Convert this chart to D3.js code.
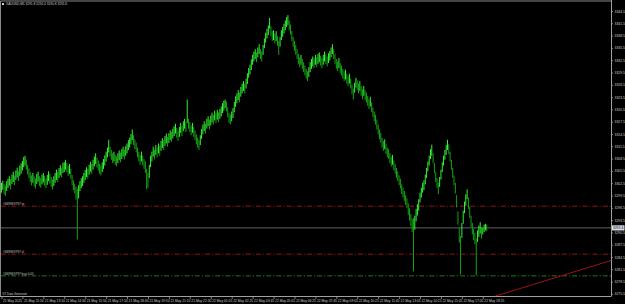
<!DOCTYPE html>
<html>
<head>
<meta charset="utf-8">
<script src="https://cdnjs.cloudflare.com/ajax/libs/d3/7.8.5/d3.min.js"></script>
<style>
  html, body { margin: 0; padding: 0; background: #000; }
  svg { display: block; }
  text { font-family: "Liberation Sans", Arial, sans-serif; }
</style>
</head>
<body>
<svg id="chart" width="625" height="304"></svg>
<script>
// XAUUSD M5, 21-22 May 2025 (MT4 style, green on black)

const titleText = "XAUUSD,M5  3291.8 3292.4 3290.8 3291.6";
const footerText = "DT Data Generator";

// one label every 16 bars
const timeLabels = [
  "21 May 2025", "21 May 11:50", "21 May 13:10", "21 May 14:30", "21 May 15:50", "21 May 17:10",
  "21 May 18:30", "21 May 19:50", "21 May 21:10", "21 May 22:30", "22 May 01:05", "22 May 02:25",
  "22 May 03:45", "22 May 05:05", "22 May 06:25", "22 May 07:45", "22 May 09:05", "22 May 10:25",
  "22 May 11:45", "22 May 13:05", "22 May 14:25", "22 May 15:45", "22 May 17:05", "22 May 18:25"
];

const priceLabels = [
  3344.5, 3341.5, 3338.5, 3335.5, 3332.5, 3329.5, 3326.5, 3323.5, 3320.5, 3317.5, 3314.5, 3311.5,
  3308.5, 3305.5, 3302.5, 3299.5, 3296.5, 3293.5, 3290.5, 3287.5, 3284.5, 3281.5, 3278.5, 3275.5
];

const highs = [
  3302.6, 3303.1, 3302.3, 3301.9, 3303.0, 3303.6, 3304.2, 3303.5, 3304.6, 3305.3, 3304.4, 3305.6, 3306.3, 3305.4, 3306.8, 3307.4,
  3307.9, 3308.9, 3309.2, 3308.3, 3307.0, 3306.1, 3305.2, 3304.4, 3305.0, 3304.1, 3303.6, 3304.8, 3305.3, 3304.2, 3303.8, 3304.6,
  3305.0, 3304.3, 3303.6, 3304.5, 3305.4, 3304.8, 3304.0, 3303.4, 3304.2, 3305.0, 3305.8, 3305.2, 3306.2, 3306.9, 3306.3, 3307.5,
  3307.6, 3308.2, 3307.5, 3306.7, 3307.2, 3306.0, 3304.5, 3303.2, 3302.4, 3301.7, 3301.2, 3302.0, 3303.0, 3303.7, 3304.2, 3305.0,
  3305.7, 3306.4, 3306.0, 3307.0, 3307.7, 3307.2, 3308.2, 3309.0, 3309.8, 3308.7, 3308.0, 3307.2, 3306.8, 3307.6, 3308.4, 3309.3,
  3310.2, 3311.2, 3313.1, 3311.4, 3310.6, 3309.8, 3310.2, 3309.4, 3309.0, 3309.8, 3310.5, 3310.0, 3310.8, 3311.4, 3310.7, 3311.6,
  3312.2, 3313.0, 3313.6, 3314.5, 3315.6, 3314.2, 3313.2, 3312.4, 3311.2, 3310.2, 3309.4, 3310.2, 3309.2, 3308.4, 3307.8, 3306.0,
  3305.0, 3307.0, 3309.2, 3310.2, 3311.4, 3310.7, 3311.8, 3311.2, 3312.2, 3311.6, 3312.8, 3313.5, 3313.0, 3314.0, 3314.6, 3313.8,
  3314.7, 3315.4, 3315.0, 3315.8, 3316.4, 3317.0, 3316.0, 3315.2, 3316.2, 3317.2, 3316.4, 3317.6, 3318.2, 3317.4, 3322.9, 3318.2,
  3317.4, 3316.6, 3317.2, 3316.2, 3315.4, 3314.4, 3313.6, 3313.0, 3314.2, 3315.7, 3316.8, 3317.6, 3317.0, 3318.2, 3318.8, 3318.0,
  3319.0, 3319.7, 3319.2, 3320.2, 3319.6, 3320.4, 3319.8, 3320.6, 3321.2, 3322.0, 3322.6, 3322.9, 3322.4, 3321.0, 3319.6, 3319.2,
  3320.0, 3320.8, 3322.3, 3323.7, 3324.4, 3325.2, 3324.6, 3326.0, 3326.8, 3327.4, 3326.8, 3328.0, 3329.3, 3330.6, 3331.4, 3332.7,
  3333.8, 3334.6, 3335.2, 3334.4, 3335.6, 3336.4, 3335.2, 3334.6, 3336.2, 3337.8, 3339.2, 3340.2, 3341.0, 3342.8, 3340.8, 3339.6,
  3339.8, 3339.0, 3339.6, 3338.4, 3337.2, 3338.2, 3339.8, 3340.6, 3341.4, 3342.2, 3343.0, 3343.5, 3342.2, 3341.2, 3339.6, 3338.2,
  3337.2, 3336.2, 3335.2, 3334.0, 3333.2, 3333.8, 3332.8, 3332.0, 3331.2, 3330.4, 3329.8, 3330.8, 3332.0, 3332.8, 3333.4, 3333.0,
  3333.8, 3333.2, 3334.0, 3334.4, 3333.6, 3333.0, 3333.8, 3334.6, 3334.0, 3333.4, 3334.2, 3334.8, 3335.6, 3336.4, 3335.2, 3334.0,
  3332.8, 3332.2, 3333.0, 3331.8, 3331.2, 3330.4, 3329.8, 3330.2, 3329.2, 3328.6, 3329.2, 3328.0, 3326.6, 3325.6, 3327.0, 3328.2,
  3327.6, 3326.8, 3327.4, 3326.2, 3325.4, 3326.2, 3325.2, 3324.6, 3323.8, 3323.0, 3323.6, 3322.2, 3321.0, 3320.0, 3319.2, 3318.0,
  3316.8, 3315.6, 3314.8, 3313.6, 3312.8, 3313.2, 3312.0, 3311.2, 3310.8, 3309.8, 3309.0, 3309.4, 3308.0, 3307.2, 3306.2, 3305.4,
  3304.4, 3303.6, 3302.2, 3301.4, 3300.6, 3299.6, 3298.8, 3297.6, 3296.4, 3295.0, 3293.8, 3294.0, 3294.6, 3296.2, 3297.4, 3298.6,
  3300.2, 3301.4, 3302.6, 3303.2, 3304.6, 3306.2, 3307.8, 3309.2, 3310.8, 3311.9, 3309.8, 3307.4, 3305.2, 3303.8, 3302.6, 3304.0,
  3305.8, 3307.6, 3309.2, 3310.6, 3311.8, 3313.1, 3312.0, 3310.2, 3308.2, 3306.2, 3304.4, 3302.6, 3299.6, 3295.6, 3291.6, 3289.6,
  3292.8, 3295.8, 3298.0, 3299.8, 3301.0, 3299.0, 3296.8, 3294.6, 3292.8, 3291.4, 3290.4, 3289.0, 3291.0, 3292.2, 3293.0, 3291.8,
  3291.6, 3292.4, 3292.6, 3292.4
];

const lows = [
  3300.2, 3300.9, 3299.8, 3299.4, 3300.6, 3301.3, 3301.9, 3301.0, 3302.3, 3302.8, 3302.0, 3303.3, 3303.9, 3303.0, 3304.3, 3304.8,
  3305.6, 3306.4, 3306.8, 3305.8, 3304.6, 3303.7, 3302.8, 3302.0, 3302.6, 3301.7, 3301.2, 3302.3, 3302.9, 3301.8, 3301.4, 3302.2,
  3302.7, 3301.9, 3301.3, 3302.1, 3303.0, 3302.4, 3301.6, 3301.0, 3301.8, 3302.6, 3303.3, 3302.8, 3303.8, 3304.4, 3303.9, 3305.0,
  3305.2, 3305.8, 3305.1, 3304.3, 3304.8, 3303.6, 3302.0, 3300.8, 3300.0, 3298.5, 3288.8, 3298.8, 3300.6, 3301.3, 3301.8, 3302.6,
  3303.3, 3304.0, 3303.6, 3304.6, 3305.3, 3304.8, 3305.8, 3306.6, 3307.2, 3306.3, 3305.6, 3304.8, 3304.4, 3305.2, 3306.0, 3306.8,
  3307.8, 3308.8, 3310.0, 3309.0, 3308.2, 3307.4, 3307.8, 3307.0, 3306.6, 3307.4, 3308.1, 3307.6, 3308.4, 3309.0, 3308.3, 3309.2,
  3309.8, 3310.6, 3311.2, 3312.0, 3313.0, 3311.8, 3310.8, 3310.0, 3308.8, 3307.8, 3307.0, 3307.8, 3306.8, 3306.0, 3305.0, 3301.0,
  3301.4, 3303.8, 3306.4, 3307.8, 3309.0, 3308.3, 3309.4, 3308.8, 3309.8, 3309.2, 3310.4, 3311.1, 3310.6, 3311.6, 3312.2, 3311.4,
  3312.3, 3313.0, 3312.6, 3313.4, 3314.0, 3314.6, 3313.6, 3312.8, 3313.8, 3314.8, 3314.0, 3315.2, 3315.8, 3315.0, 3317.2, 3315.8,
  3315.0, 3314.2, 3314.8, 3313.8, 3313.0, 3312.0, 3311.2, 3310.6, 3311.8, 3313.3, 3314.4, 3315.2, 3314.6, 3315.8, 3316.4, 3315.6,
  3316.6, 3317.3, 3316.8, 3317.8, 3317.2, 3318.0, 3317.4, 3318.2, 3318.8, 3319.6, 3320.2, 3320.8, 3320.0, 3318.6, 3317.2, 3316.8,
  3317.6, 3318.4, 3319.8, 3321.1, 3322.0, 3322.8, 3322.2, 3323.6, 3324.4, 3325.0, 3324.4, 3325.6, 3326.7, 3328.2, 3329.0, 3330.1,
  3331.4, 3332.2, 3332.8, 3332.0, 3333.2, 3334.0, 3332.8, 3332.2, 3333.8, 3335.4, 3336.8, 3337.8, 3338.6, 3340.2, 3338.4, 3337.2,
  3337.4, 3336.6, 3337.2, 3336.0, 3333.8, 3335.8, 3337.4, 3338.2, 3339.0, 3339.8, 3340.6, 3341.1, 3339.8, 3338.8, 3337.2, 3335.8,
  3334.8, 3333.8, 3332.8, 3331.6, 3330.8, 3331.4, 3330.4, 3329.6, 3328.8, 3328.0, 3327.4, 3328.4, 3329.6, 3330.4, 3331.0, 3330.6,
  3331.4, 3330.8, 3331.6, 3332.0, 3331.2, 3330.6, 3331.4, 3332.2, 3331.6, 3331.0, 3331.8, 3332.4, 3333.2, 3334.0, 3332.8, 3331.6,
  3330.4, 3329.8, 3330.6, 3329.4, 3328.8, 3328.0, 3327.4, 3327.8, 3326.8, 3326.2, 3326.8, 3325.6, 3324.2, 3322.9, 3324.6, 3325.8,
  3325.2, 3324.4, 3325.0, 3323.8, 3323.0, 3323.8, 3322.8, 3322.2, 3321.4, 3320.6, 3321.2, 3319.8, 3318.6, 3317.6, 3316.8, 3315.6,
  3314.4, 3313.2, 3312.4, 3311.2, 3310.4, 3310.8, 3309.6, 3308.8, 3308.4, 3307.4, 3306.6, 3307.0, 3305.6, 3304.8, 3303.8, 3303.0,
  3302.0, 3301.2, 3299.8, 3299.0, 3298.2, 3297.2, 3296.4, 3294.8, 3293.4, 3292.0, 3290.6, 3281.0, 3291.2, 3293.2, 3294.6, 3295.8,
  3297.8, 3299.0, 3300.2, 3300.8, 3302.2, 3303.8, 3305.4, 3306.8, 3308.4, 3309.2, 3307.4, 3305.0, 3302.8, 3301.4, 3299.8, 3301.6,
  3303.4, 3305.2, 3306.8, 3308.2, 3309.4, 3310.6, 3309.6, 3307.8, 3305.8, 3303.8, 3302.0, 3300.0, 3296.6, 3292.4, 3288.0, 3280.3,
  3289.2, 3292.6, 3295.2, 3297.0, 3298.6, 3296.2, 3294.0, 3291.8, 3290.0, 3288.6, 3287.6, 3280.0, 3288.2, 3289.4, 3290.2, 3289.0,
  3290.0, 3290.6, 3291.0, 3290.8
];

const bidPrice = 3291.6;

const orderNames  = ["#469969797 tp", "#469969797 sl", "#469969797 buy 0.01"];
const orderPrices = [3296.9, 3285.2, 3279.9];
const orderKinds  = ["tp", "sl", "entry"];

// trend line anchors (bar index, price)
const trendBars   = [370, 466];
const trendPrices = [3274.2, 3283.65];

const visibleBars = 466;

// ---- drawing ----
const W = 625, H = 304;
const plot = { left: 1, top: 1, right: 611, bottom: 296 };

const svg = d3.select('#chart');
svg.append('rect').attr('width', W).attr('height', H).attr('fill', '#000');

const x = d3.scaleLinear().domain([0, visibleBars]).range([plot.left + 0.5, plot.right]);
const y = d3.scaleLinear()
  .domain([priceLabels[priceLabels.length - 1], priceLabels[0]])
  .range([293.9, 11]);

svg.append('clipPath').attr('id', 'plotClip')
  .append('rect')
  .attr('x', plot.left).attr('y', plot.top)
  .attr('width', plot.right - plot.left).attr('height', plot.bottom - plot.top);

const g = svg.append('g').attr('clip-path', 'url(#plotClip)');

// order lines (behind bars)
const orderColor = { tp: '#a51616', sl: '#a51616', entry: '#1c8a1c' };
g.selectAll('line.order')
  .data(orderPrices)
  .join('line')
  .attr('class', 'order')
  .attr('x1', plot.left).attr('x2', plot.right)
  .attr('y1', d => y(d)).attr('y2', d => y(d))
  .attr('stroke', (d, i) => orderColor[orderKinds[i]])
  .attr('stroke-width', 0.9)
  .attr('stroke-dasharray', '5,2,1.2,2');

// bid line
g.append('line')
  .attr('x1', plot.left).attr('x2', plot.right)
  .attr('y1', y(bidPrice)).attr('y2', y(bidPrice))
  .attr('stroke', '#66707a').attr('stroke-width', 0.9);

// trend line
g.append('line')
  .attr('x1', x(trendBars[0])).attr('y1', y(trendPrices[0]))
  .attr('x2', x(trendBars[1])).attr('y2', y(trendPrices[1]))
  .attr('stroke', '#a01212').attr('stroke-width', 1);

// price bars
const mid = i => (highs[i] + lows[i]) / 2;
g.selectAll('rect.bar')
  .data(highs)
  .join('rect')
  .attr('class', 'bar')
  .attr('x', (d, i) => x(i) - 0.5)
  .attr('width', 0.95)
  .attr('y', d => y(d))
  .attr('height', (d, i) => Math.max(0.8, y(lows[i]) - y(d)))
  .attr('fill', (d, i) => (i === 0 || mid(i) >= mid(i - 1)) ? '#36ff36' : '#14aa14');

// order labels
g.selectAll('text.order')
  .data(orderNames)
  .join('text')
  .attr('class', 'order')
  .attr('x', 3)
  .attr('y', (d, i) => y(orderPrices[i]) - 1.3)
  .attr('font-size', 3.2)
  .attr('fill', '#c9c9c9')
  .text(d => d);

// frame
svg.append('path')
  .attr('d', `M${plot.right},${plot.top}H0.5V${plot.bottom}`)
  .attr('fill', 'none').attr('stroke', '#8a8a8a').attr('stroke-width', 1);

// right price axis
const yAxis = svg.append('g')
  .attr('transform', `translate(${plot.right},0)`)
  .call(d3.axisRight(y).tickValues(priceLabels).tickFormat(d3.format('.1f')).tickSize(2).tickSizeOuter(0).tickPadding(1.5));
yAxis.select('.domain').attr('stroke', '#a0a0a0').attr('d', `M0.5,0V${plot.bottom}`);
yAxis.selectAll('.tick line').attr('stroke', '#a0a0a0').attr('stroke-width', 0.8);
yAxis.selectAll('.tick text').attr('fill', '#cfcfcf').attr('font-size', 3.4)
  .attr('font-family', '"Liberation Sans", Arial, sans-serif');

// bottom time axis
const xAxis = svg.append('g')
  .attr('transform', `translate(0,${plot.bottom})`)
  .call(d3.axisBottom(x)
    .tickValues(timeLabels.map((d, i) => i * 16))
    .tickFormat((d, i) => timeLabels[i])
    .tickSize(3).tickSizeOuter(0).tickPadding(1.2));
xAxis.select('.domain').attr('stroke', '#a0a0a0').attr('d', `M0,0.5H${plot.right + 0.5}`);
xAxis.selectAll('.tick line').attr('stroke', '#a0a0a0').attr('stroke-width', 0.8);
xAxis.selectAll('.tick text')
  .attr('text-anchor', 'start').attr('dx', 1).attr('dy', '0.55em')
  .attr('fill', '#cfcfcf').attr('font-size', 3.3)
  .attr('font-family', '"Liberation Sans", Arial, sans-serif');

// current price tag on the axis
svg.append('rect')
  .attr('x', plot.right + 1).attr('y', y(bidPrice) - 2.6)
  .attr('width', 12.5).attr('height', 5.2)
  .attr('fill', '#d7dde3');
svg.append('text')
  .attr('x', plot.right + 2).attr('y', y(bidPrice) + 1.2)
  .attr('font-size', 3.4).attr('fill', '#000')
  .text(d3.format('.1f')(bidPrice));

// title and footer
svg.append('rect').attr('x', 2).attr('y', 3).attr('width', 2).attr('height', 2).attr('fill', '#d0d0d0');
svg.append('text')
  .attr('x', 6).attr('y', 5.4)
  .attr('font-size', 3.2).attr('fill', '#cfcfcf')
  .text(titleText);

svg.append('text')
  .attr('x', 2.5).attr('y', 294.6)
  .attr('font-size', 2.9).attr('fill', '#cfcfcf')
  .text(footerText);
</script>
</body>
</html>
